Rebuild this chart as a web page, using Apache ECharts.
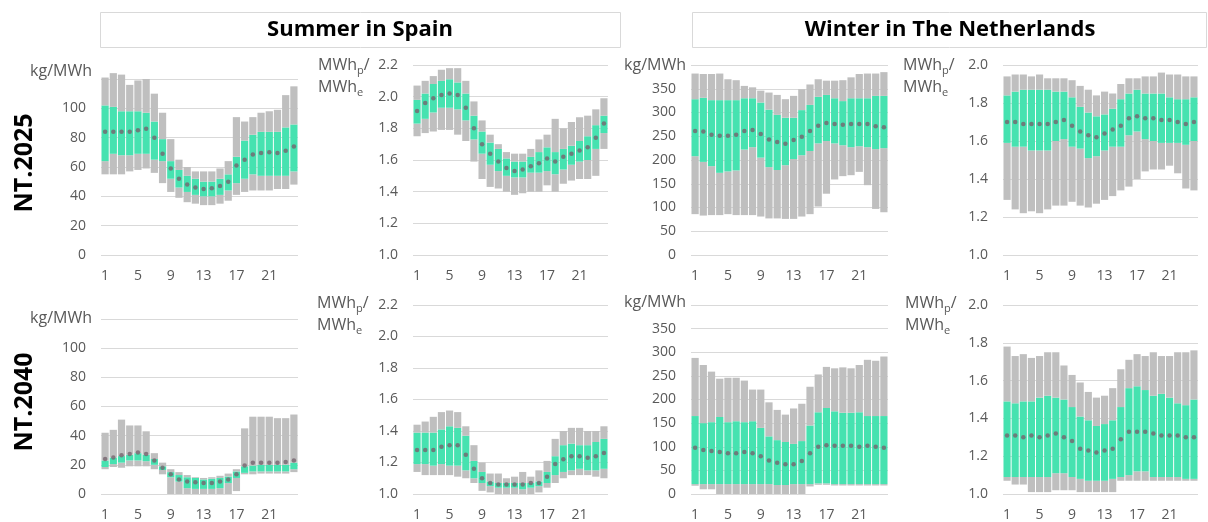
<!DOCTYPE html>
<html><head><meta charset="utf-8">
<script src="https://cdn.jsdelivr.net/npm/echarts@6/dist/echarts.min.js"></script>
<style>html,body{margin:0;padding:0;background:#fff}#c{width:1208px;height:522px}</style>
</head><body><div id="c"></div><script>
// ---------- DATA ----------
const hours = ['1','2','3','4','5','6','7','8','9','10','11','12','13','14','15','16','17','18','19','20','21','22','23','24'];
const colTitles = ['Summer in Spain', 'Winter in The Netherlands'];
const rowTitles = ['NT.2025', 'NT.2040'];

// Summer in Spain, NT.2025, kg/MWh
const esCo2_25_max = [121,124,123,116,119,120,110,97,79,65,60,57,57,57,59,64,94,91,94,97,98,99,109,115];
const esCo2_25_q3  = [102,101,98,98,98,97,91,79,64,58,54,52,50,50,52,55,67,78,82,84,84,84,87,89];
const esCo2_25_q1  = [64,69,68,68,69,69,65,64,52,46,43,41,40,40,41,44,49,52,55,54,54,54,54,57];
const esCo2_25_min = [55,55,55,57,58,59,56,49,43,39,36,35,34,34,35,37,41,43,44,44,44,45,45,48];
const esCo2_25_med = [84,84,84,84,85,86,80,69,59,52,48,46,45,45.5,47,50,61,65,68.5,69.5,70,69.5,71,74];

// Summer in Spain, NT.2025, MWhp/MWhe
const esEff_25_max = [2.07,2.10,2.13,2.17,2.18,2.18,2.10,1.97,1.85,1.76,1.70,1.65,1.64,1.64,1.67,1.73,1.76,1.86,1.80,1.84,1.87,1.88,1.92,1.99];
const esEff_25_q3  = [1.98,2.02,2.08,2.10,2.11,2.09,2.02,1.88,1.78,1.71,1.67,1.61,1.59,1.59,1.62,1.65,1.68,1.65,1.67,1.69,1.72,1.75,1.82,1.88];
const esEff_25_q1  = [1.83,1.86,1.90,1.93,1.93,1.92,1.85,1.73,1.64,1.57,1.53,1.50,1.49,1.49,1.52,1.52,1.53,1.51,1.54,1.57,1.59,1.60,1.67,1.77];
const esEff_25_min = [1.75,1.77,1.78,1.79,1.79,1.76,1.72,1.59,1.48,1.43,1.42,1.40,1.38,1.39,1.40,1.40,1.44,1.40,1.45,1.47,1.48,1.48,1.50,1.67];
const esEff_25_med = [1.91,1.96,1.99,2.01,2.02,2.01,1.93,1.80,1.70,1.64,1.59,1.55,1.53,1.54,1.56,1.58,1.61,1.59,1.62,1.64,1.66,1.68,1.74,1.83];

// Winter in The Netherlands, NT.2025, kg/MWh
const nlCo2_25_max = [382,381,381,382,370,368,356,353,346,342,337,328,335,349,359,370,367,367,368,374,381,382,382,385];
const nlCo2_25_q3  = [328,331,326,326,326,326,330,330,321,306,295,289,289,305,316,333,337,330,324,330,330,330,335,335];
const nlCo2_25_q1  = [208,196,187,173,176,178,222,227,205,185,179,189,202,210,219,235,240,235,231,227,229,227,223,225];
const nlCo2_25_min = [86,83,84,84,86,84,84,84,81,77,77,76,76,81,86,102,129,159,166,168,175,147,97,90];
const nlCo2_25_med = [261,260,253,251,251,253,261,263,255,243,238,234,242,249,261,272,278,276,274,276,276,276,271,269];

// Winter in The Netherlands, NT.2025, MWhp/MWhe
const nlEff_25_max = [1.94,1.95,1.95,1.94,1.95,1.93,1.93,1.93,1.92,1.89,1.87,1.84,1.86,1.85,1.90,1.93,1.93,1.94,1.94,1.96,1.95,1.95,1.94,1.94];
const nlEff_25_q3  = [1.84,1.86,1.87,1.87,1.87,1.87,1.86,1.86,1.83,1.78,1.75,1.73,1.74,1.77,1.82,1.85,1.87,1.85,1.85,1.85,1.83,1.82,1.82,1.83];
const nlEff_25_q1  = [1.59,1.57,1.57,1.55,1.55,1.55,1.60,1.61,1.57,1.56,1.51,1.52,1.55,1.57,1.57,1.63,1.65,1.61,1.60,1.59,1.59,1.59,1.58,1.60];
const nlEff_25_min = [1.29,1.24,1.22,1.23,1.22,1.24,1.26,1.26,1.28,1.26,1.25,1.27,1.29,1.31,1.34,1.36,1.40,1.44,1.45,1.45,1.47,1.43,1.35,1.34];
const nlEff_25_med = [1.70,1.70,1.69,1.69,1.69,1.69,1.70,1.71,1.68,1.65,1.63,1.62,1.64,1.66,1.68,1.72,1.73,1.72,1.72,1.71,1.71,1.70,1.69,1.70];

// Summer in Spain, NT.2040, kg/MWh
const esCo2_40_max = [42,44,51,47,47,43,28,21.5,17,15,13,11.5,11,11.5,12.5,14,17,45,53,53,53,52,52,54.5];
const esCo2_40_q3  = [23,25,26,27,28,27,24,19,15,13,11.5,11,10,10.5,11,12,15.5,19,19.5,20,20,20,20,21.5];
const esCo2_40_q1  = [18.5,20.5,21.5,23,23,22.5,20,16.5,11.5,8.5,4,3.5,3.5,3.5,4,7.5,11,14.5,15.5,15.5,15.5,15.5,15.5,17];
const esCo2_40_min = [17,18.5,18,19,19,19,17,13.5,0,0,0,0,0,0,0,0,2,13.5,13.5,14,14,14,14,15];
const esCo2_40_med = [24,25,26.5,27.5,28.5,27.5,23,18,13.5,10,8.5,8,7.5,7.5,8.5,10,13.5,19.5,21.5,21.5,21.5,21.5,22,23];

// Summer in Spain, NT.2040, MWhp/MWhe
const esEff_40_max = [1.44,1.46,1.49,1.52,1.53,1.52,1.43,1.31,1.20,1.13,1.13,1.10,1.11,1.14,1.11,1.15,1.21,1.35,1.40,1.42,1.42,1.40,1.40,1.43];
const esEff_40_q3  = [1.39,1.39,1.39,1.41,1.43,1.42,1.37,1.21,1.14,1.08,1.07,1.07,1.07,1.07,1.07,1.08,1.14,1.24,1.31,1.32,1.31,1.31,1.33,1.35];
const esEff_40_q1  = [1.19,1.19,1.18,1.19,1.18,1.18,1.15,1.10,1.07,1.05,1.04,1.04,1.04,1.03,1.04,1.05,1.07,1.12,1.14,1.15,1.16,1.15,1.15,1.16];
const esEff_40_min = [1.14,1.12,1.12,1.12,1.12,1.11,1.10,1.07,1.02,1.01,1.00,1.00,1.00,1.00,1.00,1.01,1.04,1.07,1.10,1.12,1.12,1.12,1.11,1.10];
const esEff_40_med = [1.28,1.28,1.28,1.30,1.31,1.31,1.25,1.16,1.10,1.07,1.06,1.06,1.06,1.06,1.07,1.07,1.11,1.19,1.22,1.24,1.24,1.23,1.24,1.26];

// Winter in The Netherlands, NT.2040, kg/MWh
const nlCo2_40_max = [288,273,259,244,246,246,240,221,221,194,178,168,181,191,227,253,269,266,268,266,273,284,282,291];
const nlCo2_40_q3  = [165,150,152,163,152,154,152,154,140,122,114,110,106,112,145,173,182,175,172,172,173,165,165,165];
const nlCo2_40_q1  = [21,21,21,21,21,21,21,21,21,21,19,19,21,21,21,22.5,22.5,21,21,21,21,21,21,21];
const nlCo2_40_min = [17.5,10,10,0,0,0,0,0,0,0,0,0,0,0,16,19.5,19.5,18,18,18,18,18,18,18];
const nlCo2_40_med = [98,93,91,89,86,86,89,86,80,71,66,63,63,70,86,100,103,102,102,102,100,102,100,98];

// Winter in The Netherlands, NT.2040, MWhp/MWhe
const nlEff_40_max = [1.78,1.73,1.74,1.72,1.73,1.75,1.75,1.68,1.63,1.59,1.54,1.51,1.52,1.56,1.66,1.71,1.74,1.73,1.75,1.73,1.73,1.75,1.75,1.76];
const nlEff_40_q3  = [1.49,1.48,1.49,1.49,1.51,1.52,1.51,1.50,1.46,1.41,1.39,1.36,1.37,1.39,1.46,1.56,1.57,1.55,1.52,1.53,1.51,1.48,1.47,1.50];
const nlEff_40_q1  = [1.09,1.09,1.09,1.09,1.09,1.09,1.11,1.11,1.09,1.08,1.07,1.07,1.07,1.08,1.09,1.10,1.12,1.12,1.09,1.09,1.09,1.09,1.08,1.08];
const nlEff_40_min = [1.07,1.05,1.05,1.01,1.01,1.01,1.02,1.02,1.02,1.01,1.01,1.01,1.01,1.01,1.07,1.07,1.07,1.07,1.07,1.07,1.07,1.07,1.07,1.07];
const nlEff_40_med = [1.31,1.31,1.30,1.31,1.30,1.31,1.32,1.30,1.28,1.24,1.23,1.22,1.23,1.24,1.29,1.33,1.33,1.33,1.32,1.31,1.31,1.31,1.30,1.30];

// ---------- STYLE / LAYOUT ----------
const FONT = '"Open Sans", sans-serif';
const GRAY = '#bfbfbf', GREEN = '#46e2b0', DOT = '#76646e', GRIDC = '#d9d9d9', LABEL = '#595959';

const panels = [
  {box:[101,79,197,176],  y:[0,120,20],  dec:0, hideTop:true,  s:[esCo2_25_min,esCo2_25_q1,esCo2_25_q3,esCo2_25_max,esCo2_25_med]},
  {box:[413,65,195,190],  y:[1.0,2.2,0.2], dec:1, hideTop:false, s:[esEff_25_min,esEff_25_q1,esEff_25_q3,esEff_25_max,esEff_25_med]},
  {box:[691,65,197,190],  y:[0,400,50],  dec:0, hideTop:true,  s:[nlCo2_25_min,nlCo2_25_q1,nlCo2_25_q3,nlCo2_25_max,nlCo2_25_med]},
  {box:[1003,65,195,190], y:[1.0,2.0,0.2], dec:1, hideTop:false, s:[nlEff_25_min,nlEff_25_q1,nlEff_25_q3,nlEff_25_max,nlEff_25_med]},
  {box:[101,319,197,176], y:[0,120,20],  dec:0, hideTop:true,  s:[esCo2_40_min,esCo2_40_q1,esCo2_40_q3,esCo2_40_max,esCo2_40_med]},
  {box:[413,305,195,190], y:[1.0,2.2,0.2], dec:1, hideTop:false, s:[esEff_40_min,esEff_40_q1,esEff_40_q3,esEff_40_max,esEff_40_med]},
  {box:[691,305,197,190], y:[0,400,50],  dec:0, hideTop:true,  s:[nlCo2_40_min,nlCo2_40_q1,nlCo2_40_q3,nlCo2_40_max,nlCo2_40_med]},
  {box:[1003,305,195,190],y:[1.0,2.0,0.2], dec:1, hideTop:false, s:[nlEff_40_min,nlEff_40_q1,nlEff_40_q3,nlEff_40_max,nlEff_40_med]}
];

const grids = [], xAxes = [], yAxes = [], series = [];
const diff = (a, b) => a.map((v, k) => +(v - b[k]).toFixed(4));

panels.forEach((p, i) => {
  grids.push({left:p.box[0], top:p.box[1], width:p.box[2], height:p.box[3], containLabel:false});
  xAxes.push({
    type:'category', gridIndex:i, data:hours,
    axisLine:{show:false}, axisTick:{show:false}, splitLine:{show:false},
    axisLabel:{interval:3, color:LABEL, fontSize:14, fontFamily:FONT, margin:14}
  });
  yAxes.push({
    type:'value', gridIndex:i, min:p.y[0], max:p.y[1], interval:p.y[2],
    axisLine:{show:false}, axisTick:{show:false},
    splitLine:{lineStyle:{color:GRIDC, width:1}},
    axisLabel:{color:LABEL, fontSize:14, fontFamily:FONT, margin:15,
      formatter:(v) => (p.hideTop && Math.abs(v - p.y[1]) < 1e-9) ? '' : v.toFixed(p.dec)}
  });
  const [mn, q1, q3, mx, md] = p.s;
  const common = {type:'bar', xAxisIndex:i, yAxisIndex:i, stack:'st' + i, barWidth:'88%', silent:true, clip:false};
  series.push(Object.assign({}, common, {data:mn, itemStyle:{color:'rgba(0,0,0,0)'}}));
  series.push(Object.assign({}, common, {data:diff(q1, mn), itemStyle:{color:GRAY}}));
  series.push(Object.assign({}, common, {data:diff(q3, q1), itemStyle:{color:GREEN}}));
  series.push(Object.assign({}, common, {data:diff(mx, q3), itemStyle:{color:GRAY}}));
  series.push({type:'scatter', xAxisIndex:i, yAxisIndex:i, data:md, symbol:'circle', symbolSize:4.5,
    itemStyle:{color:DOT}, z:5, silent:true, clip:false});
});

// ---------- DECORATION ----------
const unitStyle = {fill:LABEL, fontSize:16, fontFamily:FONT};
const kgUnit = (x, y) => ({type:'text', x:x, y:y, style:Object.assign({}, unitStyle, {text:'kg/MWh', align:'right', verticalAlign:'middle'})});
const effUnit = (x, y) => ({type:'text', x:x, y:y, style:Object.assign({}, unitStyle, {
  text:'MWh{s|p}/\nMWh{s|e}', align:'left', verticalAlign:'top', lineHeight:22,
  rich:{s:{fontSize:11, fontFamily:FONT, fill:LABEL, lineHeight:11, verticalAlign:'bottom'}}
})});

const graphic = [
  {type:'rect', shape:{x:100.5, y:12.5, width:520, height:35}, style:{fill:'#fff', stroke:GRIDC, lineWidth:1}},
  {type:'rect', shape:{x:692.5, y:12.5, width:514, height:35}, style:{fill:'#fff', stroke:GRIDC, lineWidth:1}},
  {type:'text', x:360, y:30, style:{text:colTitles[0], fill:'#000', font:'bold 22px "Open Sans"', align:'center', verticalAlign:'middle'}},
  {type:'text', x:950, y:30, style:{text:colTitles[1], fill:'#000', font:'bold 22px "Open Sans"', align:'center', verticalAlign:'middle'}},
  {type:'text', x:25, y:163, rotation:Math.PI/2, style:{text:rowTitles[0], fill:'#000', font:'bold 25px "Open Sans"', align:'center', verticalAlign:'middle'}},
  {type:'text', x:25, y:402, rotation:Math.PI/2, style:{text:rowTitles[1], fill:'#000', font:'bold 25px "Open Sans"', align:'center', verticalAlign:'middle'}},
  kgUnit(92, 71), kgUnit(686, 65), kgUnit(92, 318), kgUnit(686, 302),
  effUnit(318, 54), effUnit(903, 54), effUnit(317, 292), effUnit(905, 292)
];

const chart = echarts.init(document.getElementById('c'), null, {renderer:'canvas'});
chart.setOption({
  animation:false,
  backgroundColor:'#fff',
  grid:grids, xAxis:xAxes, yAxis:yAxes, series:series, graphic:graphic
});
</script></body></html>
